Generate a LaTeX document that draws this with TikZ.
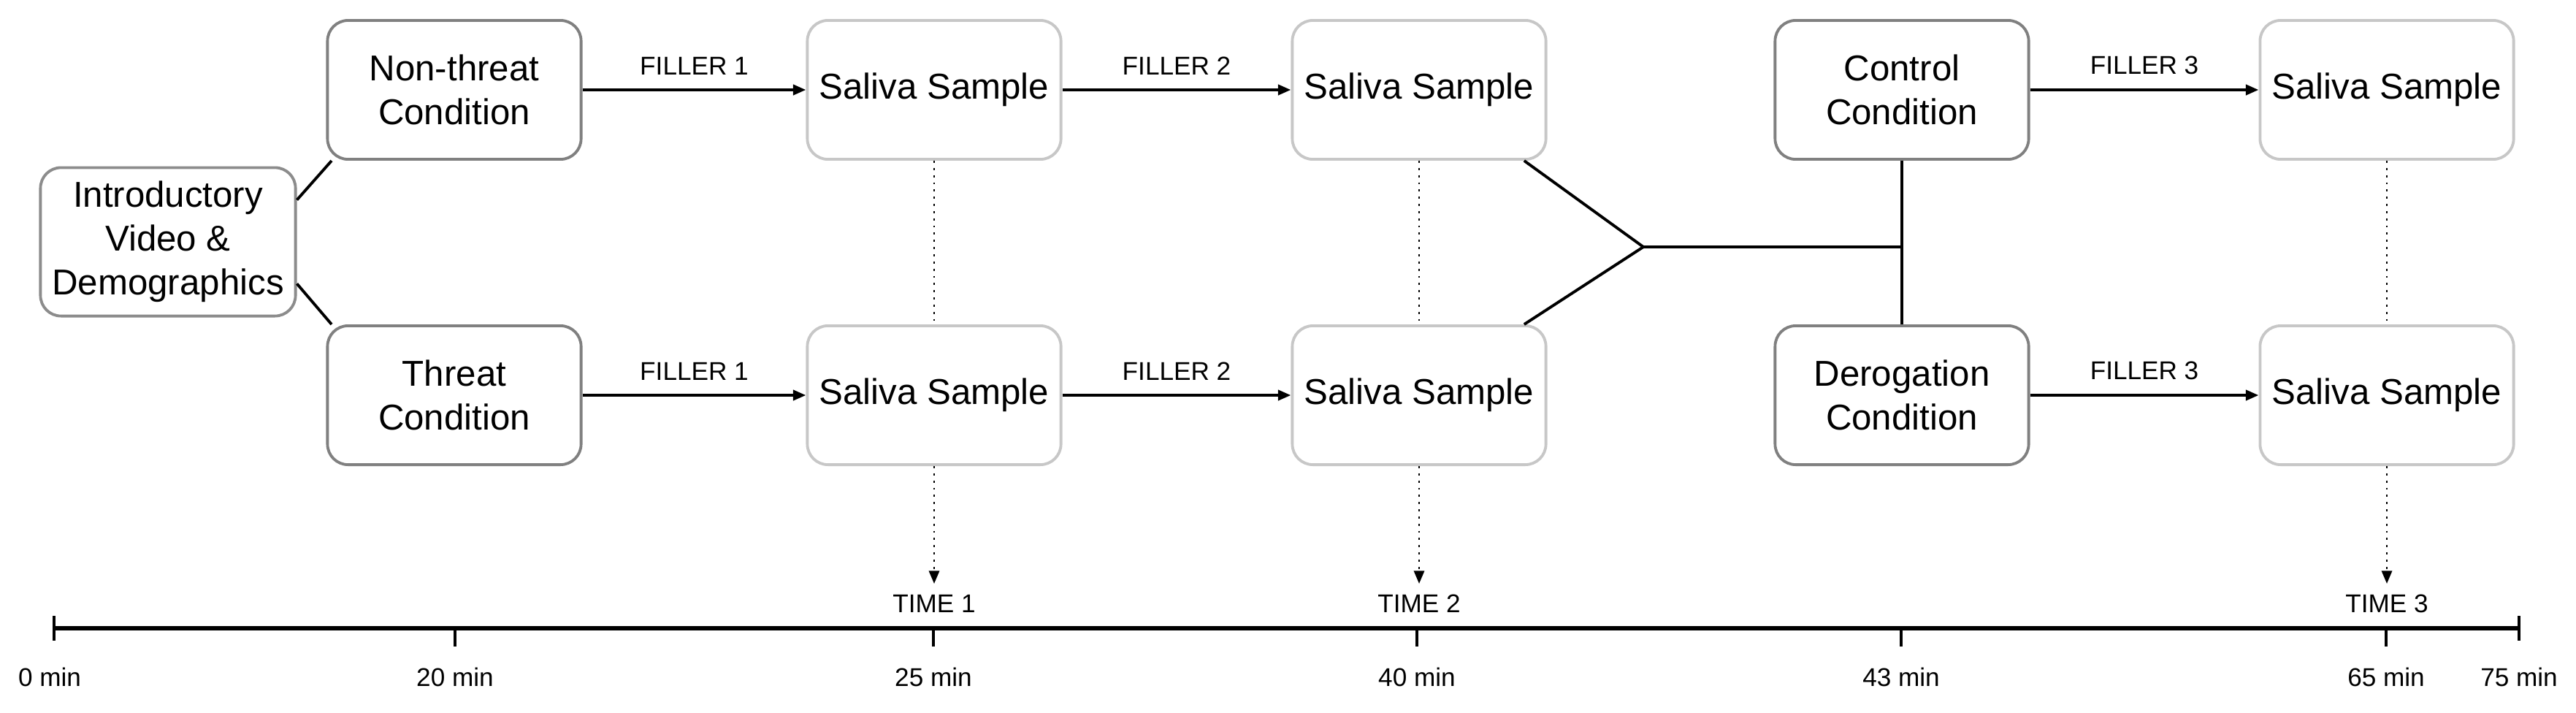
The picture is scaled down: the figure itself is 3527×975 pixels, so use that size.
\documentclass[tikz,border=0pt]{standalone}
\usepackage{fontspec}
\setmainfont{Liberation Sans}
\usetikzlibrary{arrows.meta}
\begin{document}
\begin{tikzpicture}[x=0.01cm,y=-0.01cm,
  box/.style={draw=#1,rounded corners=8pt,line width=1.1pt,minimum width=3.47cm,minimum height=1.9cm,align=center,font=\fontsize{14}{17}\selectfont,inner sep=0pt},
  cond/.style={box=black!50},
  sal/.style={box=black!22},
  arr/.style={line width=1.1pt,-{Triangle[length=5pt,width=4pt]}},
  ln/.style={line width=1.1pt},
  dot/.style={line width=0.8pt,dotted},
  lab/.style={font=\fontsize{10}{12}\selectfont},
]
\useasboundingbox (0,0) rectangle (3527,975);
\node[box=black!45,minimum width=3.49cm,minimum height=2.03cm] (intro) at (230,331) {Introductory\\Video \&\\Demographics};
\node[cond] (nt) at (622,123) {Non-threat\\Condition};
\node[cond] (th) at (622,541) {Threat\\Condition};
\node[sal] (s1t) at (1279,123) {Saliva Sample};
\node[sal] (s1b) at (1279,541) {Saliva Sample};
\node[sal] (s2t) at (1943,123) {Saliva Sample};
\node[sal] (s2b) at (1943,541) {Saliva Sample};
\node[cond] (ct) at (2604,123) {Control\\Condition};
\node[cond] (dg) at (2604,541) {Derogation\\Condition};
\node[sal] (s3t) at (3268,123) {Saliva Sample};
\node[sal] (s3b) at (3268,541) {Saliva Sample};

\draw[ln] (intro.18) -- (nt.210);
\draw[ln] (intro.-18) -- (th.150);
\draw[arr] (nt) -- node[lab,above=2pt]{FILLER 1} (s1t);
\draw[arr] (th) -- node[lab,above=2pt]{FILLER 1} (s1b);
\draw[arr] (s1t) -- node[lab,above=2pt]{FILLER 2} (s2t);
\draw[arr] (s1b) -- node[lab,above=2pt]{FILLER 2} (s2b);
\draw[arr] (ct) -- node[lab,above=2pt]{FILLER 3} (s3t);
\draw[arr] (dg) -- node[lab,above=2pt]{FILLER 3} (s3b);

\coordinate (j) at (2250,338);
\coordinate (v) at (2604,338);
\draw[ln] (s2t.-34) -- (j) -- (s2b.34);
\draw[ln] (j) -- (v);
\draw[ln] (ct) -- (dg);

\draw[dot] (s1t) -- (s1b);
\draw[dot] (s2t) -- (s2b);
\draw[dot] (s3t) -- (s3b);
\coordinate (t1) at (1279,799);
\coordinate (t2) at (1943,799);
\coordinate (t3) at (3268,799);
\draw[dot,-{Triangle[length=5pt,width=4pt]}] (s1b) -- (t1);
\draw[dot,-{Triangle[length=5pt,width=4pt]}] (s2b) -- (t2);
\draw[dot,-{Triangle[length=5pt,width=4pt]}] (s3b) -- (t3);
\node[lab] (l1) at (1279,826) {TIME 1};
\node[lab] (l2) at (1943,826) {TIME 2};
\node[lab] (l3) at (3268,826) {TIME 3};

\coordinate (a0) at (74,860);
\coordinate (a1) at (3449,860);
\draw[line width=1.6pt] (a0) -- (a1);
\draw[line width=1.2pt] (74,843) -- (74,877) (3449,843) -- (3449,877);
\foreach \x in {623,1278,1940,2603,3267} \draw[line width=0.9pt] (\x,860) -- (\x,885);
\foreach \x/\t in {68/0,623/20,1278/25,1940/40,2603/43,3267/65,3449/75}
  \node[lab] at (\x,927) {\t{} min};
\end{tikzpicture}
\end{document}
